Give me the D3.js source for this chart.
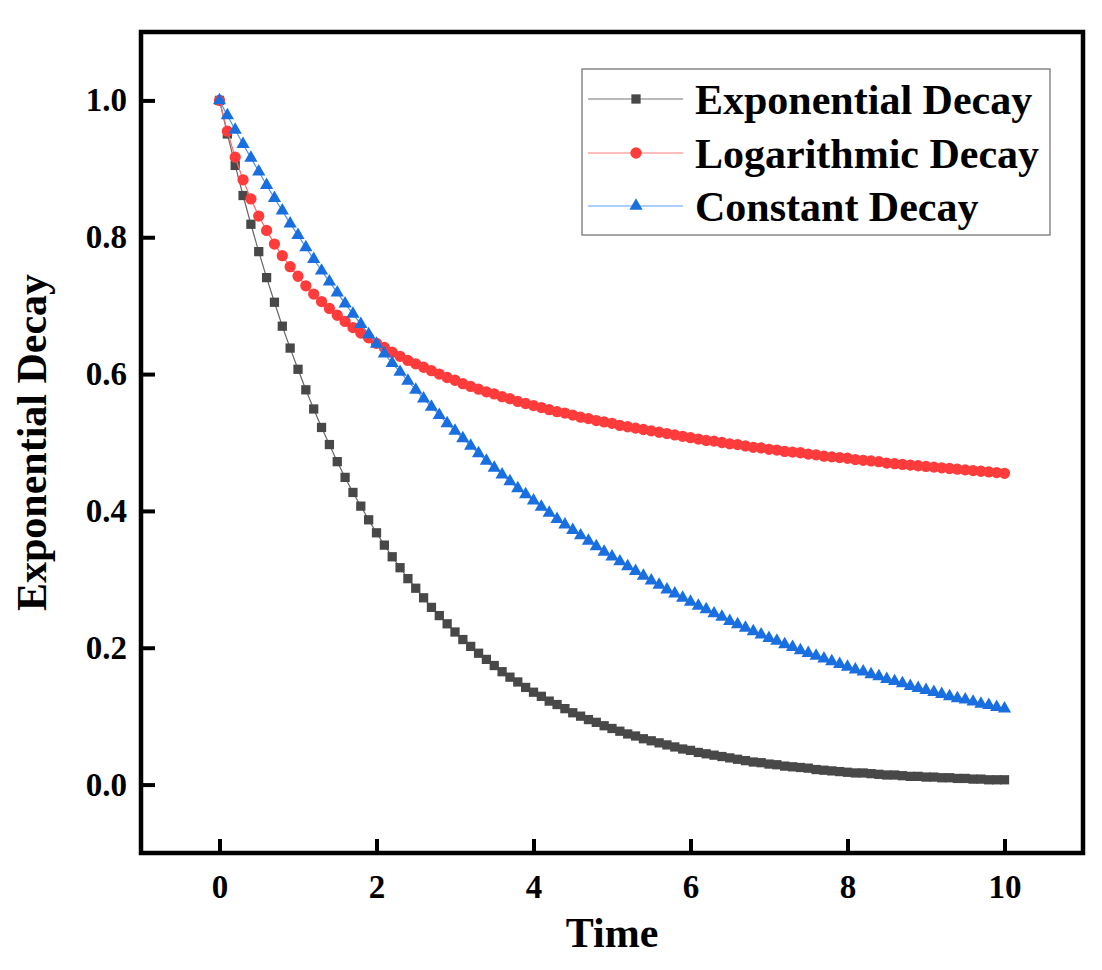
<!DOCTYPE html>
<head>
  <meta charset="utf-8" />
  <script src="https://d3js.org/d3.v7.min.js"></script>
  <style>
    body { margin: 0; background: #fff; }
    text { font-family: "Liberation Serif", "Times New Roman", serif; font-weight: bold; fill: #000; }
  </style>
</head>
<body>
<script>
// time steps (x) and the three series
var time = [0,0.1,0.2,0.3,0.4,0.5,0.6,0.7,0.8,0.9,1,1.1,1.2,1.3,1.4,1.5,1.6,1.7,1.8,1.9,2,2.1,2.2,2.3,2.4,2.5,2.6,2.7,2.8,2.9,3,3.1,3.2,3.3,3.4,3.5,3.6,3.7,3.8,3.9,4,4.1,4.2,4.3,4.4,4.5,4.6,4.7,4.8,4.9,5,5.1,5.2,5.3,5.4,5.5,5.6,5.7,5.8,5.9,6,6.1,6.2,6.3,6.4,6.5,6.6,6.7,6.8,6.9,7,7.1,7.2,7.3,7.4,7.5,7.6,7.7,7.8,7.9,8,8.1,8.2,8.3,8.4,8.5,8.6,8.7,8.8,8.9,9,9.1,9.2,9.3,9.4,9.5,9.6,9.7,9.8,9.9,10];

var expDecay = [1.000,0.951,0.905,0.861,0.819,0.779,0.741,0.705,0.670,0.638,0.607,0.577,0.549,0.522,0.497,0.472,0.449,0.427,0.407,0.387,0.368,0.350,0.333,0.317,0.301,0.287,0.273,0.259,0.247,0.235,0.223,0.212,0.202,0.192,0.183,0.174,0.165,0.157,0.150,0.142,0.135,0.129,0.122,0.117,0.111,0.105,0.100,0.095,0.091,0.086,0.082,0.078,0.074,0.071,0.067,0.064,0.061,0.058,0.055,0.052,0.050,0.047,0.045,0.043,0.041,0.039,0.037,0.035,0.033,0.032,0.030,0.029,0.027,0.026,0.025,0.024,0.022,0.021,0.020,0.019,0.018,0.017,0.017,0.016,0.015,0.014,0.014,0.013,0.012,0.012,0.011,0.011,0.010,0.010,0.009,0.009,0.008,0.008,0.007,0.007,0.007];

var logDecay = [1.000,0.955,0.917,0.884,0.856,0.831,0.810,0.790,0.773,0.757,0.743,0.729,0.717,0.706,0.696,0.686,0.677,0.668,0.660,0.653,0.645,0.639,0.632,0.626,0.620,0.615,0.610,0.605,0.600,0.595,0.591,0.586,0.582,0.578,0.574,0.571,0.567,0.564,0.560,0.557,0.554,0.551,0.548,0.545,0.543,0.540,0.537,0.535,0.532,0.530,0.528,0.525,0.523,0.521,0.519,0.517,0.515,0.513,0.511,0.509,0.507,0.505,0.503,0.502,0.500,0.498,0.497,0.495,0.493,0.492,0.490,0.489,0.487,0.486,0.485,0.483,0.482,0.480,0.479,0.478,0.477,0.475,0.474,0.473,0.472,0.470,0.469,0.468,0.467,0.466,0.465,0.464,0.463,0.462,0.461,0.460,0.459,0.458,0.457,0.456,0.455];

var constDecay = [1.000,0.978,0.957,0.936,0.916,0.896,0.876,0.857,0.839,0.820,0.803,0.785,0.768,0.751,0.735,0.719,0.703,0.688,0.673,0.658,0.644,0.630,0.616,0.603,0.590,0.577,0.564,0.552,0.540,0.528,0.517,0.506,0.495,0.484,0.473,0.463,0.453,0.443,0.433,0.424,0.415,0.406,0.397,0.388,0.380,0.372,0.364,0.356,0.348,0.340,0.333,0.326,0.319,0.312,0.305,0.298,0.292,0.285,0.279,0.273,0.267,0.261,0.256,0.250,0.245,0.239,0.234,0.229,0.224,0.219,0.214,0.210,0.205,0.201,0.196,0.192,0.188,0.184,0.180,0.176,0.172,0.168,0.165,0.161,0.158,0.154,0.151,0.148,0.144,0.141,0.138,0.135,0.132,0.129,0.126,0.124,0.121,0.118,0.116,0.113,0.111];

var seriesNames = ["Exponential Decay", "Logarithmic Decay", "Constant Decay"];
var xTicks = [0, 2, 4, 6, 8, 10];
var yTicks = [0, 0.2, 0.4, 0.6, 0.8, 1.0];

var width = 1102, height = 970;

var svg = d3.select("body").append("svg")
  .attr("width", width)
  .attr("height", height);

var x = d3.scaleLinear().domain([-1, 11]).range([141, 1083]);
var y = d3.scaleLinear().domain([-0.1, 1.1]).range([853, 32]);

// series styles (marker colour, line colour, symbol)
var series = [
  {name: seriesNames[0], values: expDecay, fill: "#484848", stroke: "#666", symbol: d3.symbolSquare, size: 86},
  {name: seriesNames[1], values: logDecay, fill: "#ff3b3b", stroke: "#ff6b6b", symbol: d3.symbolCircle, size: 100},
  {name: seriesNames[2], values: constDecay, fill: "#1a6fe0", stroke: "#4a95f0", symbol: d3.symbolTriangle, size: 76}
];

var line = d3.line()
  .x(function (d, i) { return x(time[i]); })
  .y(function (d) { return y(d); });

var plot = svg.append("g");

series.forEach(function (s) {
  var g = plot.append("g");
  g.append("path")
    .attr("d", line(s.values))
    .attr("fill", "none")
    .attr("stroke", s.stroke)
    .attr("stroke-width", 1.2);
  g.selectAll("path.pt")
    .data(s.values)
    .join("path")
    .attr("class", "pt")
    .attr("transform", function (d, i) { return "translate(" + x(time[i]) + "," + y(d) + ")"; })
    .attr("d", d3.symbol().type(s.symbol).size(s.size))
    .attr("fill", s.fill);
});

// axes, ticks pointing inward
var xAxis = svg.append("g")
  .attr("transform", "translate(0,853)")
  .call(d3.axisBottom(x).tickValues(xTicks).tickSizeInner(-14).tickSizeOuter(0).tickPadding(22).tickFormat(d3.format("d")));
var yAxis = svg.append("g")
  .attr("transform", "translate(141,0)")
  .call(d3.axisLeft(y).tickValues(yTicks).tickSizeInner(-14).tickSizeOuter(0).tickPadding(14).tickFormat(d3.format(".1f")));

[xAxis, yAxis].forEach(function (a) {
  a.select(".domain").remove();
  a.selectAll(".tick line").attr("stroke", "#000").attr("stroke-width", 4);
  a.selectAll(".tick text")
    .style("font-family", '"Liberation Serif", serif')
    .style("font-weight", "bold")
    .style("font-size", "33px")
    .attr("fill", "#000");
});

// frame
svg.append("rect")
  .attr("x", x(-1)).attr("y", y(1.1))
  .attr("width", x(11) - x(-1)).attr("height", y(-0.1) - y(1.1))
  .attr("fill", "none")
  .attr("stroke", "#000")
  .attr("stroke-width", 4.5);

// axis titles
svg.append("text")
  .attr("x", (x(-1) + x(11)) / 2)
  .attr("y", 947)
  .attr("text-anchor", "middle")
  .style("font-size", "42px")
  .text("Time");

svg.append("text")
  .attr("transform", "translate(46," + ((y(-0.1) + y(1.1)) / 2) + ") rotate(-90)")
  .attr("text-anchor", "middle")
  .style("font-size", "42px")
  .text("Exponential Decay");

// legend
var legend = svg.append("g");
legend.append("rect")
  .attr("x", 582).attr("y", 69)
  .attr("width", 468).attr("height", 166)
  .attr("fill", "#fff")
  .attr("stroke", "#888")
  .attr("stroke-width", 1.5);

var rowY = [99, 153, 206];
series.forEach(function (s, i) {
  var r = legend.append("g").attr("transform", "translate(0," + rowY[i] + ")");
  r.append("line")
    .attr("x1", 588).attr("x2", 683)
    .attr("stroke", s.stroke).attr("stroke-width", 1.5).attr("opacity", 0.6);
  r.append("path")
    .attr("transform", "translate(636,0)")
    .attr("d", d3.symbol().type(s.symbol).size(s.size))
    .attr("fill", s.fill);
  r.append("text")
    .attr("x", 695)
    .attr("dy", "0.35em")
    .style("font-size", "42px")
    .text(s.name);
});
</script>
</body>
